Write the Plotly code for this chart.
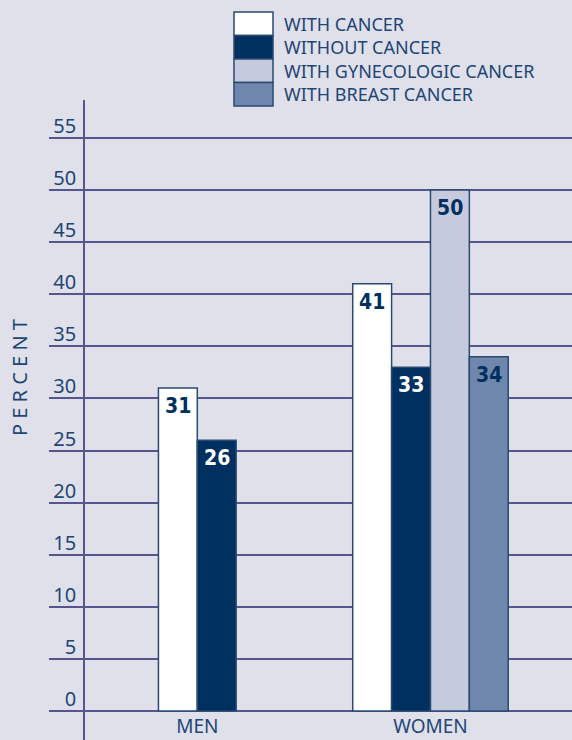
import plotly.graph_objects as go

categories = ["MEN", "WOMEN"]
series_names = ["WITH CANCER", "WITHOUT CANCER", "WITH GYNECOLOGIC CANCER", "WITH BREAST CANCER"]
with_cancer = [31, 41]
without_cancer = [26, 33]
gyn_cancer = [None, 50]
breast_cancer = [None, 34]
y_ticks = [0, 5, 10, 15, 20, 25, 30, 35, 40, 45, 50, 55]

BG = "#e0e0ea"
NAVY = "#00305f"
GRID = "#55558f"
TXT = "#1d4675"
EDGE = "#2a4a72"
fills = ["#ffffff", NAVY, "#c5cadc", "#6f86ad"]
text_cols = [NAVY, "#ffffff", NAVY, NAVY]
W = 0.1667

series = [with_cancer, without_cancer, gyn_cancer, breast_cancer]
# offsets per category (in bar widths), MEN has 2 bars, WOMEN has 4
offsets = [[-1, -2], [0, -1], [None, 0], [None, 1]]

fig = go.Figure()
for name, vals, off, fc, tc in zip(series_names, series, offsets, fills, text_cols):
    xs, ys, os_ = [], [], []
    for ci, (c, v, o) in enumerate(zip(categories, vals, off)):
        if v is None:
            continue
        xs.append(c); ys.append(v); os_.append(o * W)
        fig.add_annotation(x=ci + o * W + W / 2, y=v, xref="x", yref="y",
                           text="<b>%d</b>" % v, showarrow=False,
                           yanchor="top", yshift=-4,
                           font=dict(family="DejaVu Sans Condensed, Roboto", size=21, color=tc))
    fig.add_trace(go.Bar(
        x=xs, y=ys, name=name, width=W, offset=os_,
        marker=dict(color=fc, line=dict(color=EDGE, width=1.5)),
        showlegend=False, hoverinfo="x+y+name",
    ))

px_per_unit = 573 / 55.0
fig.update_layout(
    width=572, height=740,
    margin=dict(l=85, r=0, t=100, b=0),
    paper_bgcolor=BG, plot_bgcolor=BG,
    barmode="overlay",
    xaxis=dict(type="category", categoryarray=categories, range=[-0.4816, 1.607],
               showgrid=False, zeroline=False, showline=False,
               ticklabelposition="inside", ticks="",
               tickfont=dict(family="Noto Sans", size=19, color=TXT)),
    yaxis=dict(range=[-29 / px_per_unit, 611 / px_per_unit], tickvals=y_ticks,
               showgrid=True, gridcolor=GRID, gridwidth=1.5,
               zeroline=False, showline=True, linecolor=GRID, linewidth=1.5,
               ticks="outside", ticklen=34, tickcolor=GRID, tickwidth=1.5,
               ticklabelstandoff=-31, ticklabelshift=-12,
               tickfont=dict(family="Noto Sans", size=20, color=TXT)),
)

# y-axis title with letter spacing
fig.add_annotation(text="P E R C E N T", xref="paper", yref="paper",
                   x=(19 - 85) / 487, y=(740 - 378) / 640,
                   xanchor="center", yanchor="middle",
                   showarrow=False, textangle=-90,
                   font=dict(family="Noto Sans", size=20, color=TXT))

# custom legend
box_h = 23.5
for i, (name, fc) in enumerate(zip(series_names, fills)):
    top = 12 + i * box_h
    fig.add_shape(type="rect", xref="paper", yref="paper",
                  x0=(234 - 85) / 487, x1=(273 - 85) / 487,
                  y0=(740 - top) / 640, y1=(740 - top - box_h) / 640,
                  fillcolor=fc, line=dict(color=EDGE, width=1.5), layer="above")
    fig.add_annotation(text=name, xref="paper", yref="paper",
                       x=(283 - 85) / 487, y=(740 - top - box_h / 2) / 640,
                       xanchor="left", yanchor="middle", showarrow=False,
                       borderpad=0,
                       font=dict(family="Noto Sans", size=18, color=TXT))

fig.write_html("out.html")
